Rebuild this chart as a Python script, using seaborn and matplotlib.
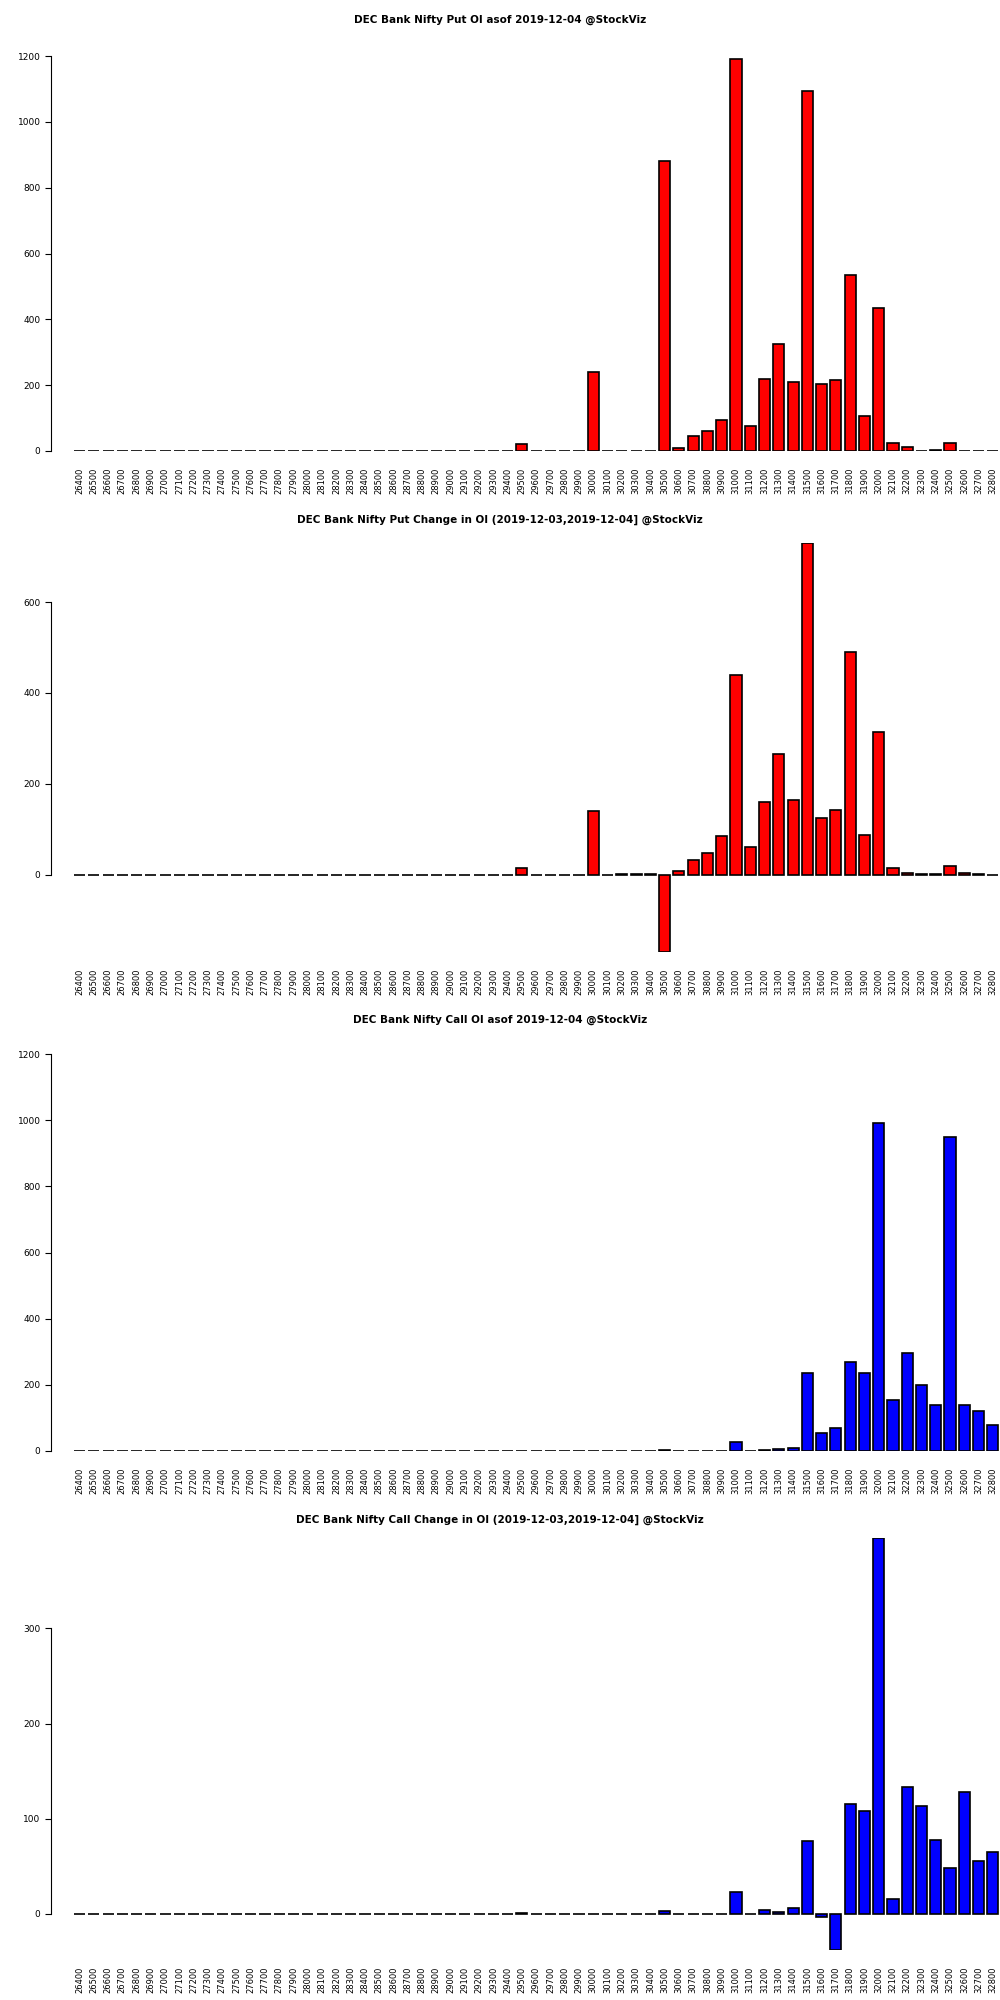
import matplotlib
matplotlib.use("Agg")
import matplotlib.pyplot as plt
import seaborn as sns
import pandas as pd

strikes = [str(s) for s in range(26400, 32900, 100)]

# values only non-zero strikes listed; everything else is 0
put_oi = {"29500": 20, "30000": 240, "30500": 880, "30600": 10, "30700": 45, "30800": 60,
          "30900": 95, "31000": 1190, "31100": 75, "31200": 220, "31300": 325, "31400": 210,
          "31500": 1095, "31600": 205, "31700": 215, "31800": 535, "31900": 105, "32000": 435,
          "32100": 25, "32200": 12, "32400": 3, "32500": 25}
put_chg = {"29500": 15, "30000": 140, "30200": 2, "30300": 2, "30400": 2, "30500": -170,
           "30600": 8, "30700": 32, "30800": 48, "30900": 85, "31000": 440, "31100": 62,
           "31200": 160, "31300": 265, "31400": 165, "31500": 730, "31600": 125, "31700": 142,
           "31800": 490, "31900": 88, "32000": 315, "32100": 15, "32200": 3, "32300": 2,
           "32400": 1, "32500": 20, "32600": 3, "32700": 2}
call_oi = {"30500": 4, "31000": 28, "31200": 3, "31300": 5, "31400": 10, "31500": 235,
           "31600": 55, "31700": 70, "31800": 270, "31900": 235, "32000": 990, "32100": 155,
           "32200": 295, "32300": 200, "32400": 140, "32500": 950, "32600": 140, "32700": 120,
           "32800": 80}
call_chg = {"29500": 1, "30500": 3, "31000": 23, "31200": 4, "31300": 2, "31400": 6,
            "31500": 77, "31600": -3, "31700": -38, "31800": 115, "31900": 108, "32000": 395,
            "32100": 16, "32200": 133, "32300": 113, "32400": 78, "32500": 48, "32600": 128,
            "32700": 56, "32800": 65}

# title, data, colour, ylim, yticks, axes top px, axes bottom px, title y px
panels = [
    ("DEC Bank Nifty Put OI asof 2019-12-04 @StockViz", put_oi, "red", (0, 1200), range(0, 1201, 200), 56, 451, 20),
    ("DEC Bank Nifty Put Change in OI (2019-12-03,2019-12-04] @StockViz", put_chg, "red", (-170, 730), range(0, 601, 200), 543, 952, 520),
    ("DEC Bank Nifty Call OI asof 2019-12-04 @StockViz", call_oi, "blue", (0, 1200), range(0, 1201, 200), 1054, 1451, 1020),
    ("DEC Bank Nifty Call Change in OI (2019-12-03,2019-12-04] @StockViz", call_chg, "blue", (-38, 395), range(0, 301, 100), 1538, 1950, 1520),
]

fig = plt.figure(figsize=(10, 20), dpi=100)
for title, vals, color, ylim, yticks, top, bottom, ty in panels:
    ax = fig.add_axes([0.051, 1 - bottom / 2000, 0.949, (bottom - top) / 2000])
    df = pd.DataFrame({"strike": strikes, "value": [vals.get(s, 0) for s in strikes]})
    sns.barplot(data=df, x="strike", y="value", order=strikes, color=color,
                edgecolor="black", linewidth=1.2, width=0.78, saturation=1, ax=ax)
    ax.set_xlim(-2, 64.5)
    ax.set_ylim(*ylim)
    for s in ["top", "right", "bottom"]:
        ax.spines[s].set_visible(False)
    ax.spines["left"].set_bounds(min(yticks), max(yticks))
    ax.set_yticks(list(yticks))
    ax.tick_params(axis="y", labelsize=6.5, length=4)
    ax.tick_params(axis="x", labelsize=6, length=0, rotation=90, pad=12)
    ax.set_xlabel("")
    ax.set_ylabel("")
    fig.text(0.5, 1 - ty / 2000, title, ha="center", va="center",
             fontsize=7.5, fontweight="bold")

fig.savefig("out.png", dpi=100, facecolor="white")
